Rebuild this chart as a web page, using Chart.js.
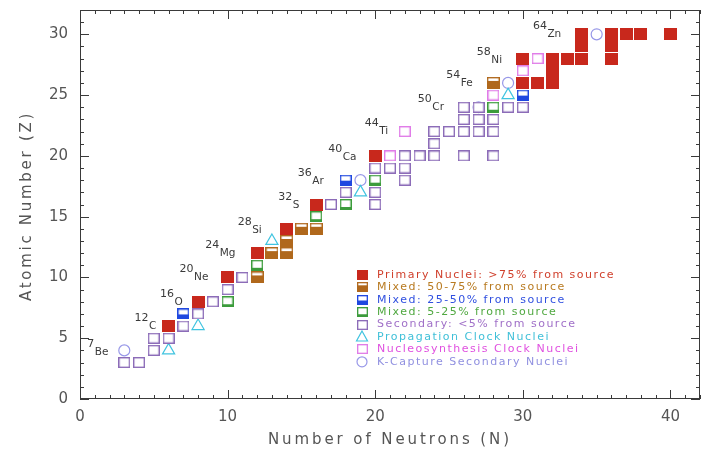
<!DOCTYPE html>
<html>
<head>
<meta charset="utf-8">
<script src="https://cdn.jsdelivr.net/npm/chart.js@4.4.1/dist/chart.umd.min.js"></script>
<style>
  html, body { margin: 0; padding: 0; background: #fff; }
  #wrap { width: 703px; height: 459px; }
</style>
</head>
<body>
<div id="wrap"><canvas id="chart" width="703" height="459"></canvas></div>
<script>
// Axis tick values
const xTickValues = [0, 10, 20, 30, 40];
const yTickValues = [0, 5, 10, 15, 20, 25, 30];

// Nuclides as [N, Z] pairs, grouped by source class
const primaryNuclei = [[6,6],[8,8],[10,10],[12,12],[14,14],[16,16],[20,20],[30,26],[30,28],[31,26],[32,26],[32,27],[32,28],[33,28],[34,28],[34,29],[34,30],[36,28],[36,29],[36,30],[37,30],[38,30],[40,30]];
const mixed50to75 = [[12,10],[13,12],[14,12],[14,13],[15,14],[16,14],[28,26]];
const mixed25to50 = [[7,7],[18,18],[30,25]];
const mixed5to25 = [[10,8],[12,11],[16,15],[18,16],[20,18],[28,24]];
const secondaryNuclei = [[3,3],[4,3],[5,4],[5,5],[6,5],[7,6],[8,7],[9,8],[10,9],[11,10],[17,16],[18,17],[20,16],[20,17],[20,19],[21,19],[22,18],[22,19],[22,20],[23,20],[24,20],[24,21],[24,22],[25,22],[26,20],[26,22],[26,23],[26,24],[27,22],[27,23],[27,24],[28,20],[28,22],[28,23],[29,24],[30,24]];
const propagationClock = [[6,4],[8,6],[13,13],[19,17],[29,25]];
const nucleosynthesisClock = [[21,20],[22,22],[28,25],[30,27],[31,28]];
const kCaptureSecondary = [[3,4],[19,18],[27,24],[29,26],[35,30]];

// Legend entries
const seriesNames = [
  'Primary Nuclei: >75% from source',
  'Mixed: 50-75% from source',
  'Mixed: 25-50% from source',
  'Mixed: 5-25% from source',
  'Secondary: <5% from source',
  'Propagation Clock Nuclei',
  'Nucleosynthesis Clock Nuclei',
  'K-Capture Secondary Nuclei'
];

// Isotope annotations: mass number, element symbol, atomic number
const isotopeMass = [7, 12, 16, 20, 24, 28, 32, 36, 40, 44, 50, 54, 58, 64];
const isotopeSymbol = ['Be','C','O','Ne','Mg','Si','S','Ar','Ca','Ti','Cr','Fe','Ni','Zn'];
const isotopeZ = [4, 6, 8, 10, 12, 14, 16, 18, 20, 22, 24, 26, 28, 30];

// Pixel placement of each annotation relative to its nuclide
const labelShift = [[-37,5],[-34,3],[-38,3],[-48,3],[-52,3],[-49,4],[-38,3],[-48,4],[-47,4],[-40,2],[-46,3],[-47,3],[-46,4],[-49,3]];

const colors = {
  primary: '#c8281c', m5075: '#b0681c', m2550: '#1f48e0', m525: '#3c9c3c',
  secondary: '#8c6cb8', prop: '#40c4e0', nucleo: '#e07ce8', kcap: '#9898e8'
};
const textColors = ['#d0402c', '#b87a20', '#3050e0', '#50a840', '#a070c8', '#40c0d8', '#e050e0', '#9090e0'];

// Square marker partially filled from the bottom
function boxSymbol(color, fillFrac, w, h) {
  const c = document.createElement('canvas');
  c.width = w; c.height = h;
  const g = c.getContext('2d');
  g.fillStyle = '#fff';
  g.fillRect(0, 0, w, h);
  g.strokeStyle = color;
  g.lineWidth = 1.4;
  g.strokeRect(0.7, 0.7, w - 1.4, h - 1.4);
  if (fillFrac > 0) {
    const fh = Math.round(h * fillFrac);
    g.fillStyle = color;
    g.fillRect(0, h - fh, w, fh);
  }
  return c;
}

const symPrimary = boxSymbol(colors.primary, 1, 13, 12);
const sym5075 = boxSymbol(colors.m5075, 0.68, 13, 12);
const sym2550 = boxSymbol(colors.m2550, 0.45, 12, 11);
const sym525 = boxSymbol(colors.m525, 0.25, 12, 11);
const symSecondary = boxSymbol(colors.secondary, 0, 12, 11);
const symNucleo = boxSymbol(colors.nucleo, 0, 12, 11);

const toPoints = arr => arr.map(([n, z]) => ({ x: n, y: z }));

const datasets = [
  { label: seriesNames[4], data: toPoints(secondaryNuclei), pointStyle: symSecondary },
  { label: seriesNames[6], data: toPoints(nucleosynthesisClock), pointStyle: symNucleo },
  { label: seriesNames[3], data: toPoints(mixed5to25), pointStyle: sym525 },
  { label: seriesNames[2], data: toPoints(mixed25to50), pointStyle: sym2550 },
  { label: seriesNames[1], data: toPoints(mixed50to75), pointStyle: sym5075 },
  { label: seriesNames[0], data: toPoints(primaryNuclei), pointStyle: symPrimary },
  { label: seriesNames[5], data: toPoints(propagationClock), pointStyle: 'triangle', pointRadius: 7,
    borderColor: colors.prop, backgroundColor: 'rgba(0,0,0,0)', borderWidth: 1.2 },
  { label: seriesNames[7], data: toPoints(kCaptureSecondary), pointStyle: 'circle', pointRadius: 5.5,
    borderColor: colors.kcap, backgroundColor: 'rgba(0,0,0,0)', borderWidth: 1.2 }
];

function spacedText(ctx, text, left, y, spacing) {
  ctx.letterSpacing = spacing + 'px';
  ctx.textAlign = 'left';
  ctx.fillText(text, left, y);
  ctx.letterSpacing = '0px';
}
function fitText(ctx, text, cx, cy, targetWidth) {
  ctx.letterSpacing = '0px';
  const w0 = ctx.measureText(text).width;
  const sp = (targetWidth - w0) / text.length;
  spacedText(ctx, text, cx - targetWidth / 2, cy, sp);
}

// Box with inward ticks on all four sides, annotations, legend and axis titles
const framePlugin = {
  id: 'frame',
  beforeDatasetsDraw(chart) {
    const { ctx, chartArea: a, scales: { x, y } } = chart;
    ctx.save();
    ctx.strokeStyle = '#3a3a3a';
    ctx.lineWidth = 1;
    ctx.strokeRect(a.left + 0.5, a.top + 0.5, a.right - a.left - 1, a.bottom - a.top - 1);
    ctx.beginPath();
    for (let n = x.min; n <= x.max; n++) {
      const px = Math.round(x.getPixelForValue(n)) + 0.5;
      const len = n % 10 === 0 ? 9 : 4;
      ctx.moveTo(px, a.bottom); ctx.lineTo(px, a.bottom - len);
      ctx.moveTo(px, a.top); ctx.lineTo(px, a.top + len);
    }
    for (let z = y.min; z <= y.max; z++) {
      const py = Math.round(y.getPixelForValue(z)) + 0.5;
      const len = z % 5 === 0 ? 9 : 4;
      ctx.moveTo(a.left, py); ctx.lineTo(a.left + len, py);
      ctx.moveTo(a.right, py); ctx.lineTo(a.right - len, py);
    }
    ctx.stroke();
    ctx.restore();
  },
  afterDatasetsDraw(chart) {
    const { ctx, chartArea: a, scales: { x, y } } = chart;
    ctx.save();
    // isotope annotations
    ctx.fillStyle = '#3a3a3a';
    ctx.textBaseline = 'alphabetic';
    isotopeMass.forEach((m, i) => {
      const z = isotopeZ[i];
      const px = x.getPixelForValue(m - z) + labelShift[i][0];
      const py = y.getPixelForValue(z) + labelShift[i][1];
      ctx.font = '11px "DejaVu Sans"';
      const sup = String(m);
      ctx.textAlign = 'left';
      ctx.fillText(sup, px, py - 8);
      const sw = ctx.measureText(sup).width;
      ctx.font = '10.5px "DejaVu Sans"';
      ctx.fillText(isotopeSymbol[i], px + sw + 0.5, py);
    });

    // legend
    const syms = [symPrimary, sym5075, sym2550, sym525, symSecondary, null, symNucleo, null];
    ctx.font = '11px "DejaVu Sans"';
    ctx.textBaseline = 'middle';
    for (let i = 0; i < seriesNames.length; i++) {
      const cy = 275 + i * 12.4;
      const cx = 362;
      if (syms[i]) {
        ctx.drawImage(syms[i], Math.round(cx - 5.5), Math.round(cy - 5), 11, 10);
      } else if (i === 5) {
        ctx.strokeStyle = colors.prop; ctx.lineWidth = 1.2;
        ctx.beginPath();
        ctx.moveTo(cx, cy - 6); ctx.lineTo(cx + 5.5, cy + 4); ctx.lineTo(cx - 5.5, cy + 4); ctx.closePath();
        ctx.stroke();
      } else {
        ctx.strokeStyle = colors.kcap; ctx.lineWidth = 1.2;
        ctx.beginPath(); ctx.arc(cx, cy, 5, 0, Math.PI * 2); ctx.stroke();
      }
      ctx.fillStyle = textColors[i];
      spacedText(ctx, seriesNames[i], 377, cy, 1.5);
    }

    // axis titles
    ctx.fillStyle = '#555';
    ctx.font = '15px "DejaVu Sans"';
    ctx.textBaseline = 'middle';
    fitText(ctx, 'Number of Neutrons (N)', (a.left + a.right) / 2, 440, 244);
    ctx.translate(27, 206);
    ctx.rotate(-Math.PI / 2);
    fitText(ctx, 'Atomic Number (Z)', 0, 0, 190);
    ctx.restore();
  }
};

const tickFont = { family: 'DejaVu Sans', size: 15 };

new Chart(document.getElementById('chart'), {
  type: 'scatter',
  data: { datasets },
  options: {
    responsive: false,
    animation: false,
    devicePixelRatio: 1,
    layout: { autoPadding: false, padding: { top: 10, right: 3, left: 0, bottom: 0 } },
    plugins: { legend: { display: false }, tooltip: { enabled: false } },
    scales: {
      x: {
        type: 'linear', min: 0, max: 42,
        grid: { display: false, drawTicks: false },
        border: { display: false },
        ticks: { color: '#555', font: tickFont, padding: 9 },
        afterBuildTicks: s => { s.ticks = xTickValues.map(v => ({ value: v })); },
        afterFit: s => { s.height = 60; s.paddingLeft = 0; s.paddingRight = 0; }
      },
      y: {
        type: 'linear', min: 0, max: 32,
        grid: { display: false, drawTicks: false },
        border: { display: false },
        ticks: { color: '#555', font: tickFont, padding: 12 },
        afterBuildTicks: s => { s.ticks = yTickValues.map(v => ({ value: v })); },
        afterFit: s => { s.width = 80; s.paddingTop = 0; s.paddingBottom = 0; }
      }
    }
  },
  plugins: [framePlugin]
});
</script>
</body>
</html>
